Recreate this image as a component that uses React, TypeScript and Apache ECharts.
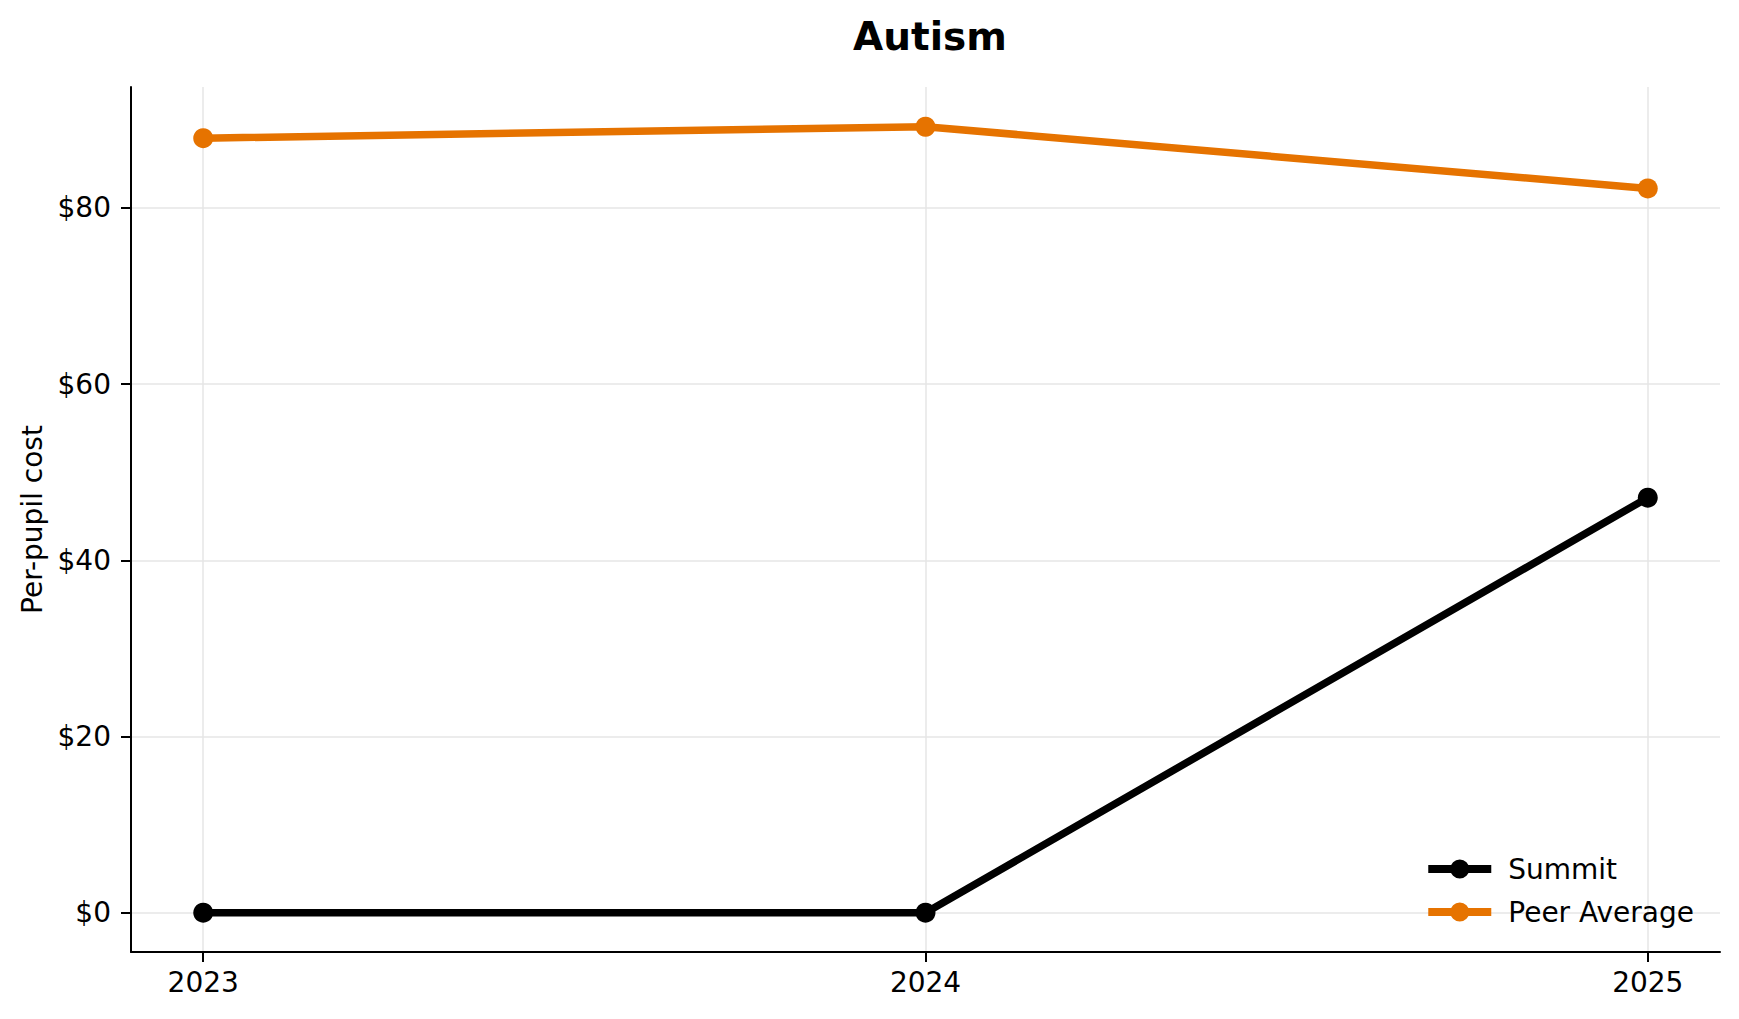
import React, { useEffect, useRef } from 'react';
import * as echarts from 'echarts';

const years = [2023, 2024, 2025];
const summit = [0, 0, 47.1];
const peerAverage = [87.9, 89.2, 82.2];
const yTicks = [0, 20, 40, 60, 80];

const FONT = "'DejaVu Sans', sans-serif";

// line with a dot in the middle, for legend icons (63 x 19 box)
const legendIcon =
  'path://M0,5.5 L63,5.5 L63,13.5 L0,13.5 Z M22,9.5 A9.5,9.5 0 1,1 41,9.5 A9.5,9.5 0 1,1 22,9.5 Z';

const App: React.FC = () => {
  const chartRef = useRef<HTMLDivElement | null>(null);

  useEffect(() => {
    document.body.style.margin = '0';
    if (!chartRef.current) return;
    const chart = echarts.init(chartRef.current, undefined, { renderer: 'svg' });

    // grid lines at the tick positions, kept under the data lines
    const gridLines = [
      ...yTicks.map((v) => ({ yAxis: v })),
      ...years.map((v) => ({ xAxis: v })),
    ];

    chart.setOption({
      animation: false,
      backgroundColor: '#ffffff',
      title: {
        text: 'Autism',
        left: 925,
        top: 12,
        textAlign: 'center',
        textStyle: {
          fontFamily: FONT,
          fontSize: 39,
          fontWeight: 'bold',
          color: '#000',
        },
      },
      legend: {
        data: ['Summit', 'Peer Average'],
        orient: 'vertical',
        right: 40,
        top: 850,
        itemWidth: 63,
        itemHeight: 19,
        itemGap: 15,
        icon: legendIcon,
        z: 10,
        textStyle: {
          fontFamily: FONT,
          fontSize: 28,
          color: '#000',
          padding: [0, 0, 0, 12],
        },
      },
      grid: {
        left: 131,
        right: 19,
        top: 87,
        bottom: 67,
      },
      xAxis: {
        type: 'value',
        min: 2022.9,
        max: 2025.1,
        axisLine: { show: true, onZero: false, lineStyle: { color: '#000', width: 2 } },
        axisTick: {
          show: true,
          length: 10,
          lineStyle: { color: '#000', width: 2 },
          customValues: years,
        },
        axisLabel: {
          customValues: years,
          formatter: (v: number) => String(v),
          fontFamily: FONT,
          fontSize: 28,
          color: '#000',
          margin: 16,
        },
        splitLine: { show: false },
      },
      yAxis: {
        type: 'value',
        min: -4.46,
        max: 93.71,
        name: 'Per-pupil cost',
        nameLocation: 'middle',
        nameRotate: 90,
        nameGap: 85,
        nameTextStyle: { fontFamily: FONT, fontSize: 28, color: '#000' },
        axisLine: { show: true, onZero: false, lineStyle: { color: '#000', width: 2 } },
        axisTick: {
          show: true,
          length: 10,
          lineStyle: { color: '#000', width: 2 },
          customValues: yTicks,
        },
        axisLabel: {
          customValues: yTicks,
          formatter: (v: number) => '$' + v,
          fontFamily: FONT,
          fontSize: 28,
          color: '#000',
          margin: 20,
        },
        splitLine: { show: false },
      },
      series: [
        {
          name: 'grid',
          type: 'line',
          data: [],
          z: 0,
          silent: true,
          markLine: {
            z: 0,
            silent: true,
            symbol: ['none', 'none'],
            label: { show: false },
            lineStyle: { color: '#e6e6e6', width: 1.5, type: 'solid' },
            emphasis: { disabled: true },
            data: gridLines,
          },
        },
        {
          name: 'Summit',
          type: 'line',
          z: 3,
          data: years.map((y, i) => [y, summit[i]]),
          symbol: 'circle',
          symbolSize: 20,
          lineStyle: { color: '#000000', width: 7.5 },
          itemStyle: { color: '#000000' },
        },
        {
          name: 'Peer Average',
          type: 'line',
          z: 2,
          data: years.map((y, i) => [y, peerAverage[i]]),
          symbol: 'circle',
          symbolSize: 20,
          lineStyle: { color: '#E67300', width: 7.5 },
          itemStyle: { color: '#E67300' },
        },
      ],
    });

    const resizeHandler = () => chart.resize();
    window.addEventListener('resize', resizeHandler);
    return () => {
      window.removeEventListener('resize', resizeHandler);
      chart.dispose();
    };
  }, []);

  return <div ref={chartRef} style={{ width: '1739px', height: '1019px' }} />;
};

export default App;
